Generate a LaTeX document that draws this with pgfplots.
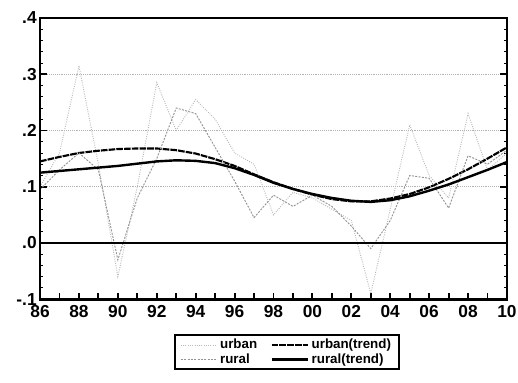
\documentclass[border=0pt]{standalone}
\usepackage{pgfplots}
\pgfplotsset{compat=1.18}
\usepackage{pgfplotstable}
\usepackage{fontspec}
\setmainfont{Liberation Sans}
\pgfplotstableread{
year urban rural urbantrend ruraltrend
1986 0.100 0.095 0.145 0.125
1987 0.160 0.130 0.153 0.128
1988 0.315 0.160 0.160 0.131
1989 0.140 0.130 0.164 0.134
1990 -0.060 -0.030 0.167 0.137
1991 0.100 0.080 0.168 0.141
1992 0.285 0.150 0.168 0.145
1993 0.200 0.240 0.165 0.147
1994 0.255 0.230 0.159 0.146
1995 0.220 0.170 0.149 0.142
1996 0.160 0.110 0.137 0.133
1997 0.140 0.045 0.122 0.121
1998 0.050 0.085 0.108 0.107
1999 0.090 0.065 0.096 0.096
2000 0.080 0.085 0.086 0.087
2001 0.060 0.065 0.078 0.080
2002 0.040 0.030 0.074 0.075
2003 -0.090 -0.010 0.074 0.073
2004 0.060 0.040 0.079 0.076
2005 0.210 0.120 0.087 0.083
2006 0.120 0.115 0.099 0.093
2007 0.080 0.062 0.114 0.104
2008 0.230 0.155 0.131 0.117
2009 0.130 0.140 0.150 0.130
2010 0.160 0.165 0.170 0.144
}\data
\begin{document}
\begin{tikzpicture}
\begin{axis}[
  name=ax,
  scale only axis,
  width=350pt, height=210.75pt,
  xmin=1986, xmax=2010,
  ymin=-0.1, ymax=0.4,
  clip=false,
  xtick={1986,...,2010},
  xticklabels={86,,88,,90,,92,,94,,96,,98,,00,,02,,04,,06,,08,,10},
  ytick={-0.1,0,0.1,0.2,0.3,0.4},
  yticklabels={-.1,.0,.1,.2,.3,.4},
  minor y tick num=4,
  xtick pos=left,
  ytick pos=both,
  tick align=inside,
  major tick length=5pt,
  minor tick length=2.5pt,
  tick style={line width=1.4pt, black},
  minor tick style={line width=0.7pt},
  ticklabel style={font=\bfseries\fontsize{13}{14}\selectfont},
  xticklabel style={yshift=-1pt},
  yticklabel style={xshift=1pt},
  ymajorgrids,
  major grid style={densely dotted, gray!60, line width=0.5pt},
  legend columns=2,
  legend style={at={(0.529,-0.125)}, anchor=north, draw=black, line width=1.2pt,
    font=\bfseries\fontsize{10}{10.5}\selectfont, inner xsep=4pt, inner ysep=1pt,
    row sep=-2pt, /tikz/every even column/.append style={column sep=8pt}},
  legend cell align=left,
  legend image code/.code={\draw[#1] (0cm,0cm) -- (0.95cm,0cm);},
]
\addplot[gray!55, densely dotted, line width=0.7pt] table[x=year,y=urban]{\data};
\addlegendentry{urban}
\addplot[black, dash pattern=on 5pt off 0.8pt, line width=1.6pt] table[x=year,y=urbantrend]{\data};
\addlegendentry{urban(trend)}
\addplot[gray!85, dash pattern=on 1.5pt off 1pt, line width=0.7pt] table[x=year,y=rural]{\data};
\addlegendentry{rural}
\addplot[black, line width=1.8pt] table[x=year,y=ruraltrend]{\data};
\addlegendentry{rural(trend)}
\addplot[black, line width=1.3pt, forget plot] coordinates {(1986,0) (2010,0)};
\draw[black, line width=2.2pt] (rel axis cs:0,0) rectangle (rel axis cs:1,1);
\end{axis}
\pgfresetboundingbox
\path ([xshift=-30pt,yshift=-62.25pt]ax.south west) rectangle ([xshift=8.25pt,yshift=13.5pt]ax.north east);
\end{tikzpicture}
\end{document}
